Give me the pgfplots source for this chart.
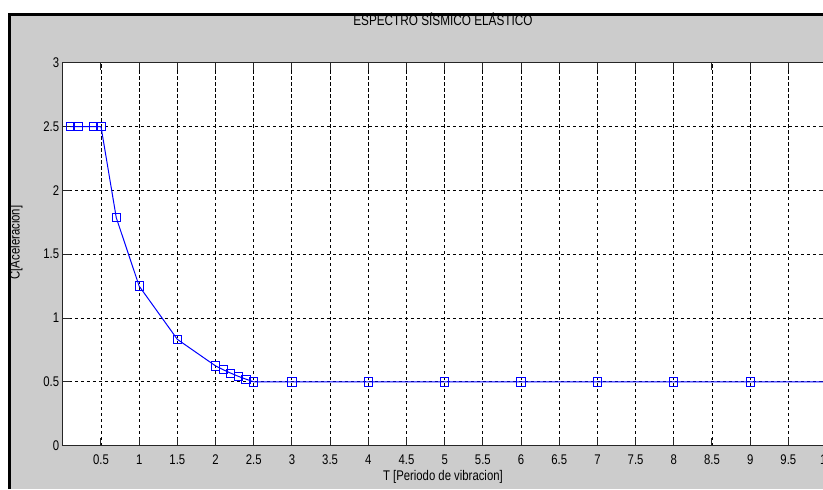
\documentclass[border=0pt]{standalone}
\usepackage{pgfplots}
\pgfplotsset{compat=1.18}
\usepackage{fontspec}
\setmainfont[FakeStretch=0.81]{Liberation Sans}
\definecolor{mgray}{RGB}{204,204,204}
\definecolor{mblue}{RGB}{0,0,255}
\begin{document}
\begin{tikzpicture}[x=0.75pt,y=0.75pt]
\useasboundingbox (-62.8,-43.3) rectangle (760.2,445.7);
\clip (-62.8,-43.3) rectangle (760.2,445.7);
\fill[white] (-62.8,-43.3) rectangle (760.2,445.7);
\fill[mgray] (-53.1,-43.3) rectangle (760.2,431.2);
\draw[black, line width=2.2pt] (-53.1,-43.3) -- (-53.1,431.2) -- (760.2,431.2);
\begin{axis}[
  anchor=origin,
  scale only axis, width=572.8pt, height=287.25pt,
  xmin=0, xmax=10, ymin=0, ymax=3,
  xtick={0.5,1,...,10}, ytick={0,0.5,...,3},
  xticklabels={0.5,1,1.5,2,2.5,3,3.5,4,4.5,5,5.5,6,6.5,7,7.5,8,8.5,9,9.5,10},
  yticklabels={0,0.5,1,1.5,2,2.5,3},
  axis background/.style={fill=white},
  axis line style={black!85, line width=0.75pt},
  tick align=inside, major tick length=5.7pt,
  tick style={black!85, line width=0.75pt},
  grid=major,
  major grid style={black, line width=0.65pt, dash pattern=on 2.4pt off 2.1pt},
  /pgf/number format/assume math mode=true,
  tick label style={font=\fontsize{10.5}{12}\selectfont, text=black},
  xticklabel style={anchor=base, inner sep=0pt, yshift=-14.1pt},
  yticklabel style={anchor=east, inner sep=0pt, xshift=-2.6pt},
  title={ESPECTRO SÍSMICO ELÁSTICO},
  title style={font=\fontsize{10.9}{12}\selectfont, text=black, at={(axis description cs:0.4977,1.0919)}, anchor=center, inner sep=0pt},
  xlabel={T [Periodo de vibracion]},
  xlabel style={font=\fontsize{10.5}{12}\selectfont, text=black, at={(axis description cs:0.4977,-0.0817)}, anchor=center, inner sep=0pt},
  ylabel={C[Aceleración]},
  ylabel style={font=\fontsize{10.5}{12}\selectfont, text=black, at={(axis description cs:-0.0613,0.5305)}, anchor=center, inner sep=0pt},
  clip=false,
]
\addplot[mblue, line width=0.75pt, mark=square, mark size=3.1pt, mark indices={1,...,20}, mark options={solid, line width=0.75pt}]
coordinates {
 (0.1,2.5) (0.2,2.5) (0.4,2.5) (0.5,2.5) (0.7,1.786) (1,1.25) (1.5,0.833)
 (2,0.625) (2.1,0.595) (2.2,0.568) (2.3,0.543) (2.4,0.521) (2.5,0.5)
 (3,0.5) (4,0.5) (5,0.5) (6,0.5) (7,0.5) (8,0.5) (9,0.5) (10,0.5)
};
\end{axis}
\end{tikzpicture}
\end{document}
